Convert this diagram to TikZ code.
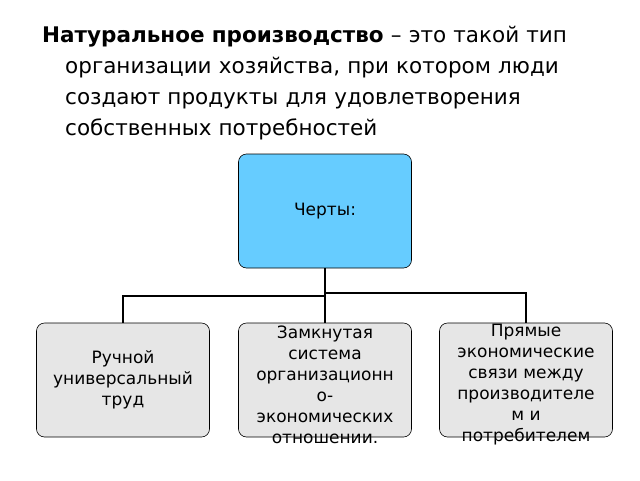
\documentclass[tikz,border=0pt]{standalone}
\usepackage{fontspec}
\setmainfont{DejaVu Sans}
\usetikzlibrary{positioning}
\definecolor{topblue}{HTML}{66CCFF}
\definecolor{boxgray}{HTML}{E6E6E6}
\tikzset{
  featbox/.style={draw, semithick, rounded corners=8pt, minimum width=173pt, minimum height=114pt},
  feattext/.style={align=center, font=\fontsize{17}{21}\selectfont, inner sep=0pt},
  link/.style={line width=1.3pt}
}
\begin{document}
\begin{tikzpicture}[x=1pt,y=-1pt]
\useasboundingbox (0,0) rectangle (640,480);
% title
\node[anchor=north west, text width=575pt, align=left, inner sep=0pt,
  font=\fontsize{21.5}{31}\selectfont] (title) at (42,26)
  {\hangindent=23pt\hangafter=1 \textbf{Натуральное производство} – это такой тип организации хозяйства, при котором люди создают продукты для удовлетворения собственных потребностей\par};
% boxes
\node[featbox, fill=topblue] (top) at (325,211) {};
\node[featbox, fill=boxgray] (left) at (123,380) {};
\node[featbox, fill=boxgray] (mid) at (325,380) {};
\node[featbox, fill=boxgray] (right) at (526,380) {};
\node[feattext] at (top) {Черты:};
\node[feattext] at (left) {Ручной\\универсальный\\труд};
\node[feattext] at (325,385) {Замкнутая\\система\\организационн\\о-\\экономических\\отношении.};
\node[feattext] at (526,385) {Прямые\\экономические\\связи между\\производителе\\м и\\потребителем};
% connectors
\coordinate (j) at (325,293);
\draw[link] (top.south) -- (mid.north);
\draw[link] (325,296) -| (left.north);
\draw[link] (j) -| (right.north);
\end{tikzpicture}
\end{document}
